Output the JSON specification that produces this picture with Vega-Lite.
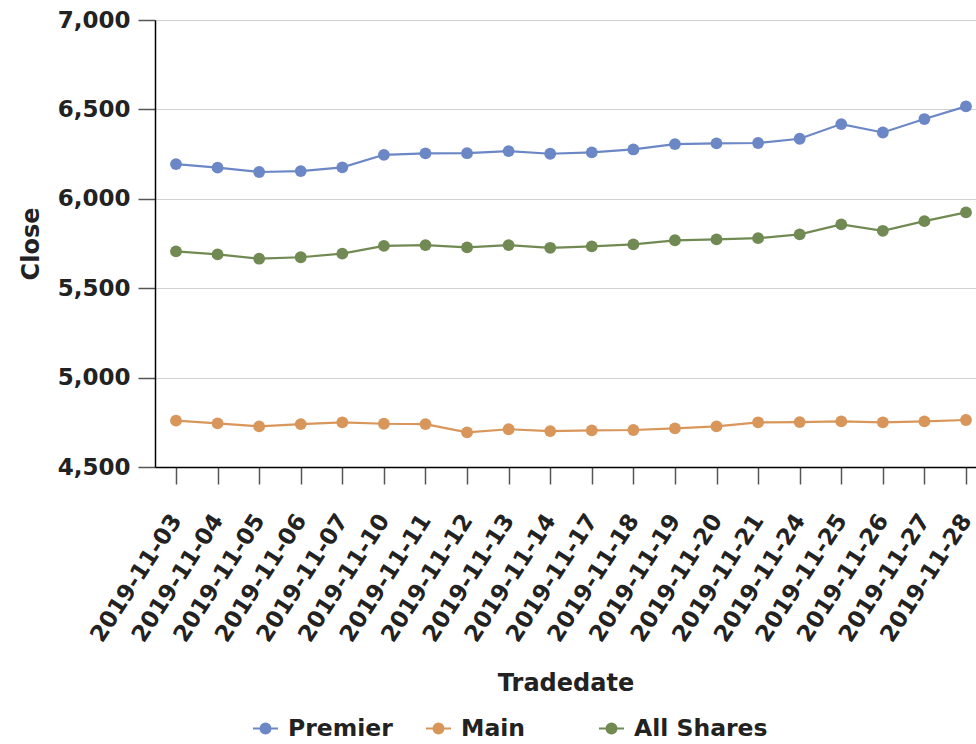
{
  "$schema": "https://vega.github.io/schema/vega-lite/v6.json",
  "width": 821,
  "height": 447,
  "autosize": "none",
  "padding": {"left": 155, "top": 20, "right": 0, "bottom": 277},
  "background": "white",
  "config": {
    "view": {"stroke": null},
    "font": "DejaVu Sans",
    "axis": {
      "labelFont": "DejaVu Sans", "labelFontWeight": "bold", "labelFontSize": 23, "labelColor": "#222222",
      "titleFont": "DejaVu Sans", "titleFontWeight": "bold", "titleFontSize": 24, "titleColor": "#222222",
      "domainColor": "#000000", "domainWidth": 1.5, "tickColor": "#555555", "tickSize": 17, "tickWidth": 1.5,
      "gridColor": "#d0d0d0", "gridWidth": 1.2
    },
    "legend": {
      "labelFont": "DejaVu Sans", "labelFontWeight": "bold", "labelFontSize": 23.5, "labelColor": "#222222"
    }
  },
  "data": {
    "values": [
      {"Tradedate": "2019-11-03", "Index": "Premier", "Close": 6194},
      {"Tradedate": "2019-11-04", "Index": "Premier", "Close": 6174},
      {"Tradedate": "2019-11-05", "Index": "Premier", "Close": 6150},
      {"Tradedate": "2019-11-06", "Index": "Premier", "Close": 6155},
      {"Tradedate": "2019-11-07", "Index": "Premier", "Close": 6176},
      {"Tradedate": "2019-11-10", "Index": "Premier", "Close": 6246},
      {"Tradedate": "2019-11-11", "Index": "Premier", "Close": 6254},
      {"Tradedate": "2019-11-12", "Index": "Premier", "Close": 6255},
      {"Tradedate": "2019-11-13", "Index": "Premier", "Close": 6267},
      {"Tradedate": "2019-11-14", "Index": "Premier", "Close": 6252},
      {"Tradedate": "2019-11-17", "Index": "Premier", "Close": 6260},
      {"Tradedate": "2019-11-18", "Index": "Premier", "Close": 6276},
      {"Tradedate": "2019-11-19", "Index": "Premier", "Close": 6306},
      {"Tradedate": "2019-11-20", "Index": "Premier", "Close": 6310},
      {"Tradedate": "2019-11-21", "Index": "Premier", "Close": 6312},
      {"Tradedate": "2019-11-24", "Index": "Premier", "Close": 6336},
      {"Tradedate": "2019-11-25", "Index": "Premier", "Close": 6418},
      {"Tradedate": "2019-11-26", "Index": "Premier", "Close": 6371},
      {"Tradedate": "2019-11-27", "Index": "Premier", "Close": 6446},
      {"Tradedate": "2019-11-28", "Index": "Premier", "Close": 6517},
      {"Tradedate": "2019-11-03", "Index": "Main", "Close": 4759},
      {"Tradedate": "2019-11-04", "Index": "Main", "Close": 4744},
      {"Tradedate": "2019-11-05", "Index": "Main", "Close": 4727},
      {"Tradedate": "2019-11-06", "Index": "Main", "Close": 4740},
      {"Tradedate": "2019-11-07", "Index": "Main", "Close": 4750},
      {"Tradedate": "2019-11-10", "Index": "Main", "Close": 4742},
      {"Tradedate": "2019-11-11", "Index": "Main", "Close": 4740},
      {"Tradedate": "2019-11-12", "Index": "Main", "Close": 4694},
      {"Tradedate": "2019-11-13", "Index": "Main", "Close": 4711},
      {"Tradedate": "2019-11-14", "Index": "Main", "Close": 4701},
      {"Tradedate": "2019-11-17", "Index": "Main", "Close": 4705},
      {"Tradedate": "2019-11-18", "Index": "Main", "Close": 4707},
      {"Tradedate": "2019-11-19", "Index": "Main", "Close": 4716},
      {"Tradedate": "2019-11-20", "Index": "Main", "Close": 4727},
      {"Tradedate": "2019-11-21", "Index": "Main", "Close": 4750},
      {"Tradedate": "2019-11-24", "Index": "Main", "Close": 4751},
      {"Tradedate": "2019-11-25", "Index": "Main", "Close": 4755},
      {"Tradedate": "2019-11-26", "Index": "Main", "Close": 4750},
      {"Tradedate": "2019-11-27", "Index": "Main", "Close": 4755},
      {"Tradedate": "2019-11-28", "Index": "Main", "Close": 4763},
      {"Tradedate": "2019-11-03", "Index": "All Shares", "Close": 5706},
      {"Tradedate": "2019-11-04", "Index": "All Shares", "Close": 5689},
      {"Tradedate": "2019-11-05", "Index": "All Shares", "Close": 5665},
      {"Tradedate": "2019-11-06", "Index": "All Shares", "Close": 5673},
      {"Tradedate": "2019-11-07", "Index": "All Shares", "Close": 5693},
      {"Tradedate": "2019-11-10", "Index": "All Shares", "Close": 5737},
      {"Tradedate": "2019-11-11", "Index": "All Shares", "Close": 5741},
      {"Tradedate": "2019-11-12", "Index": "All Shares", "Close": 5728},
      {"Tradedate": "2019-11-13", "Index": "All Shares", "Close": 5741},
      {"Tradedate": "2019-11-14", "Index": "All Shares", "Close": 5726},
      {"Tradedate": "2019-11-17", "Index": "All Shares", "Close": 5734},
      {"Tradedate": "2019-11-18", "Index": "All Shares", "Close": 5745},
      {"Tradedate": "2019-11-19", "Index": "All Shares", "Close": 5768},
      {"Tradedate": "2019-11-20", "Index": "All Shares", "Close": 5773},
      {"Tradedate": "2019-11-21", "Index": "All Shares", "Close": 5780},
      {"Tradedate": "2019-11-24", "Index": "All Shares", "Close": 5801},
      {"Tradedate": "2019-11-25", "Index": "All Shares", "Close": 5857},
      {"Tradedate": "2019-11-26", "Index": "All Shares", "Close": 5821},
      {"Tradedate": "2019-11-27", "Index": "All Shares", "Close": 5875},
      {"Tradedate": "2019-11-28", "Index": "All Shares", "Close": 5924}
    ]
  },
  "encoding": {
    "x": {
      "field": "Tradedate", "type": "ordinal", "title": "Tradedate",
      "scale": {"type": "point", "padding": 0.373, "align": 0.677},
      "axis": {"labelAngle": -57, "labelPadding": 32, "titlePadding": 26, "grid": false}
    },
    "y": {
      "field": "Close", "type": "quantitative", "title": "Close",
      "scale": {"domain": [4500, 7000], "nice": false, "zero": false},
      "axis": {"values": [4500, 5000, 5500, 6000, 6500, 7000], "format": ",.0f", "labelPadding": 8, "titlePadding": 14, "grid": true}
    },
    "color": {
      "field": "Index", "type": "nominal", "title": null,
      "scale": {"domain": ["Premier", "Main", "All Shares"], "range": ["#6c87c6", "#d8965a", "#718a53"]},
      "legend": {
        "orient": "none", "legendX": 97, "legendY": 695, "direction": "horizontal", "columns": 3,
        "gridAlign": "all", "columnPadding": 0, "labelOffset": 9,
        "symbolType": "M-1,0L1,0M-0.4,0A0.4,0.4,0,1,1,0.4,0A0.4,0.4,0,1,1,-0.4,0",
        "symbolSize": 625, "symbolStrokeWidth": 2,
        "encode": {"symbols": {"update": {"fill": {"scale": "color", "field": "value"}, "stroke": {"scale": "color", "field": "value"}, "fillOpacity": {"value": 1}}}}
      }
    }
  },
  "layer": [
    {"mark": {"type": "line", "strokeWidth": 2.2}},
    {"mark": {"type": "point", "filled": true, "size": 140, "opacity": 1}}
  ]
}
